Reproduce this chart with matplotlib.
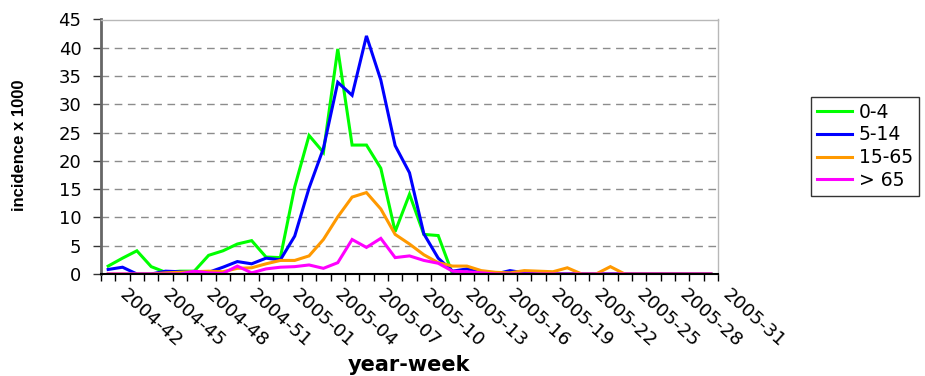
import numpy as np
import matplotlib
matplotlib.use("Agg")
import matplotlib.pyplot as plt
import matplotlib.transforms as mtransforms

plt.rcParams['font.family'] = ['DejaVu Sans']

# ISO weeks 2004-42 .. 2005-31 (2004 has 53 weeks)
weeks = ["2004-%02d" % w for w in range(42, 54)] + ["2005-%02d" % w for w in range(1, 32)]

# incidence per 1000, by age group
inc_0_4 = [1.4, 2.8, 4.1, 1.3, 0.3, 0.5, 0.5, 3.3, 4.1, 5.3,
           5.9, 3.0, 2.9, 15.4, 24.5, 21.5, 39.8, 22.8, 22.8, 18.7,
           7.5, 14.1, 7.0, 6.8, 0.0, 0.0, 0.0, 0.0, 0.0, 0.0,
           0.0, 0.0, 0.0, 0.0, 0.0, 0.0, 0.0, 0.0, 0.0, 0.0,
           0.0, 0.0, 0.0]
inc_5_14 = [0.8, 1.2, 0.0, 0.0, 0.5, 0.4, 0.2, 0.3, 1.2, 2.2,
            1.8, 2.8, 2.5, 6.7, 15.2, 22.2, 33.9, 31.6, 42.1, 34.3,
            22.7, 17.9, 7.1, 2.8, 0.5, 0.9, 0.2, 0.0, 0.6, 0.2,
            0.0, 0.0, 0.0, 0.0, 0.0, 0.0, 0.0, 0.0, 0.0, 0.0,
            0.0, 0.0, 0.0]
inc_15_65 = [0.0, 0.0, 0.0, 0.0, 0.2, 0.3, 0.4, 0.5, 0.4, 1.0,
             1.1, 1.8, 2.4, 2.4, 3.2, 6.1, 10.1, 13.6, 14.4, 11.5,
             7.0, 5.3, 3.4, 2.0, 1.4, 1.4, 0.6, 0.3, 0.2, 0.6,
             0.5, 0.4, 1.1, 0.0, 0.0, 1.3, 0.0, 0.0, 0.0, 0.0,
             0.0, 0.0, 0.0]
inc_65 = [0.0, 0.0, 0.0, 0.0, 0.0, 0.0, 0.5, 0.2, 0.1, 1.4,
          0.2, 0.9, 1.2, 1.3, 1.6, 1.0, 2.0, 6.1, 4.7, 6.3,
          2.9, 3.2, 2.4, 1.9, 0.5, 0.4, 0.2, 0.0, 0.0, 0.0,
          0.0, 0.0, 0.0, 0.0, 0.0, 0.0, 0.0, 0.0, 0.0, 0.0,
          0.0, 0.0, 0.0]

series = [(inc_0_4, '0-4', '#00FF00'),
          (inc_5_14, '5-14', '#0000FF'),
          (inc_15_65, '15-65', '#FF9900'),
          (inc_65, '> 65', '#FF00FF')]

fig = plt.figure(figsize=(9.25, 3.76), dpi=100)
ax = fig.add_axes([101/925, 1-274/376, 617/925, 254.5/376])

x = np.arange(len(weeks))
for vals, lab, col in series:
    ax.plot(x, vals, color=col, linewidth=2.2, label=lab, solid_joinstyle='miter')

ax.set_xlim(-0.5, len(weeks) - 0.5)
ax.set_ylim(0, 45)
ax.set_yticks(np.arange(0, 46, 5))
ax.yaxis.grid(True, color='#8c8c8c', linewidth=1.0, linestyle=(0, (5.5, 4.0)))
ax.set_axisbelow(True)

# category ticks on the boundaries, labels every third week
ax.set_xticks(np.arange(-0.5, len(weeks)), minor=True)
ax.set_xticks(x[::3])
ax.set_xticklabels(weeks[::3], rotation=-42, ha='left', va='top',
                   rotation_mode='anchor', fontsize=13.3)
ax.tick_params(axis='x', which='major', length=0, pad=8)
ax.tick_params(axis='x', which='minor', length=5, width=1, color='#000000')
ax.tick_params(axis='y', length=6, width=1, color='#333333', pad=8, labelsize=13)
offset = mtransforms.ScaledTranslation(20/100, 0, fig.dpi_scale_trans)
for t in ax.get_xticklabels():
    t.set_transform(t.get_transform() + offset)

for s in ('top', 'right'):
    ax.spines[s].set_color('#b8b8b8')
    ax.spines[s].set_linewidth(1.0)
ax.spines['left'].set_color('#666666')
ax.spines['left'].set_linewidth(2.0)
ax.spines['bottom'].set_color('#000000')
ax.spines['bottom'].set_linewidth(1.5)

fig.text(20/925, 1-145/376, 'incidence x 1000', rotation=90, ha='center', va='center',
         fontsize=12, fontweight='bold', family='Liberation Sans')
fig.text(409/925, 1-365/376, 'year-week', ha='center', va='center',
         fontsize=15, fontweight='bold')

leg = fig.legend(loc='upper left', bbox_to_anchor=(811/925, 1-97/376),
                 fontsize=13.5, frameon=True, fancybox=False, handlelength=1.9,
                 handletextpad=0.35, labelspacing=0.2, borderpad=0.3,
                 borderaxespad=0)
leg.get_frame().set_edgecolor('#000000')
leg.get_frame().set_linewidth(1.0)
for h in leg.get_lines():
    h.set_linewidth(2.2)

fig.savefig('out.png', dpi=100)
